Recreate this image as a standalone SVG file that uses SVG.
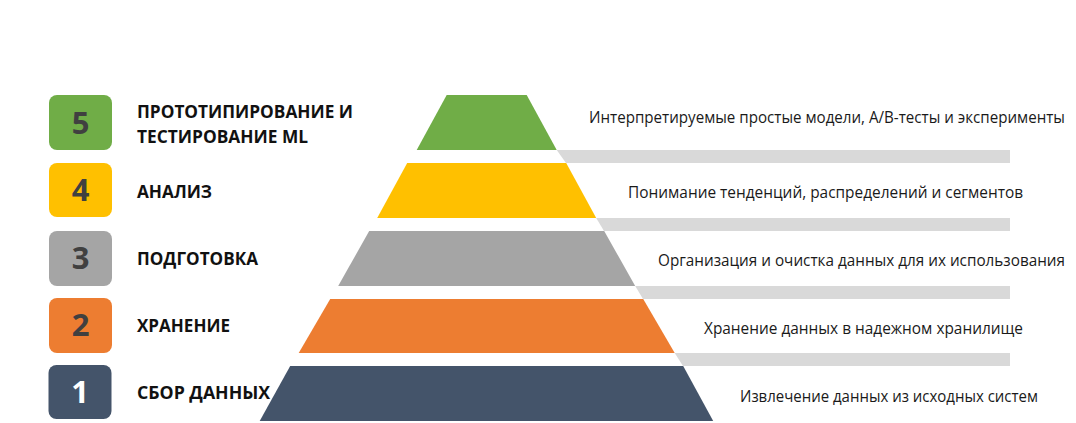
<svg xmlns="http://www.w3.org/2000/svg" width="1076" height="423" viewBox="0 0 1076 423">
<style>
.badge{stroke:none}
.num{font-family:"Open Sans","Liberation Sans",sans-serif;font-weight:bold;font-size:31px;text-anchor:middle;fill:#404040}
.lbl{font-family:"Open Sans","Liberation Sans",sans-serif;font-weight:bold;font-size:18px;fill:#111111}
.desc{font-family:"Open Sans","Liberation Sans",sans-serif;font-size:15.5px;fill:#1a1a1a}
.bar{fill:#d9d9d9}
</style>
<rect width="1076" height="423" fill="#ffffff"/>
<g id="connectors">
<polygon class="bar" points="556.7,150 1010,150 1010,163 566,163"/>
<polygon class="bar" points="596.2,218 1010,218 1010,231 604,231"/>
<polygon class="bar" points="635.2,286 1010,286 1010,299 643,299"/>
<polygon class="bar" points="674.7,353 1010,353 1010,366 683,366"/>
</g>
<g id="tier5">
<rect class="badge" x="49" y="95" width="63" height="55" rx="8" fill="#70ad47"/>
<text class="num" x="80.5" y="133.5">5</text>
<text class="lbl" x="137" y="118" textLength="216" lengthAdjust="spacingAndGlyphs">ПРОТОТИПИРОВАНИЕ И</text>
<text class="lbl" x="137" y="143" textLength="171" lengthAdjust="spacingAndGlyphs">ТЕСТИРОВАНИЕ ML</text>
<polygon points="446.7,95 526.7,95 556.7,150 416.7,150" fill="#70ad47"/>
<text class="desc" x="589" y="122.5" textLength="476" lengthAdjust="spacingAndGlyphs">Интерпретируемые простые модели, А/В-тесты и эксперименты</text>
</g>
<g id="tier4">
<rect class="badge" x="49" y="163" width="63" height="54" rx="8" fill="#ffc000"/>
<text class="num" x="80.5" y="201">4</text>
<text class="lbl" x="137" y="198" textLength="75" lengthAdjust="spacingAndGlyphs">АНАЛИЗ</text>
<polygon points="407.2,163 566.2,163 596.2,218 377.2,218" fill="#ffc000"/>
<text class="desc" x="628" y="197.5" textLength="395" lengthAdjust="spacingAndGlyphs">Понимание тенденций, распределений и сегментов</text>
</g>
<g id="tier3">
<rect class="badge" x="49" y="231" width="63" height="55" rx="8" fill="#a5a5a5"/>
<text class="num" x="80.5" y="269">3</text>
<text class="lbl" x="137" y="265" textLength="121" lengthAdjust="spacingAndGlyphs">ПОДГОТОВКА</text>
<polygon points="369.2,231 604.2,231 635.2,286 338.2,286" fill="#a5a5a5"/>
<text class="desc" x="658" y="265.5" textLength="407" lengthAdjust="spacingAndGlyphs">Организация и очистка данных для их использования</text>
</g>
<g id="tier2">
<rect class="badge" x="49" y="298" width="63" height="55" rx="8" fill="#ed7d31"/>
<text class="num" x="80.5" y="336">2</text>
<text class="lbl" x="137" y="332" textLength="93" lengthAdjust="spacingAndGlyphs">ХРАНЕНИЕ</text>
<polygon points="330.2,299 643.2,299 674.7,353 298.7,353" fill="#ed7d31"/>
<text class="desc" x="704" y="333.5" textLength="319" lengthAdjust="spacingAndGlyphs">Хранение данных в надежном хранилище</text>
</g>
<g id="tier1">
<rect class="badge" x="48.5" y="365" width="63" height="54" rx="8" fill="#44546a"/>
<text class="num" x="80" y="403" style="fill:#ffffff">1</text>
<text class="lbl" x="137" y="399" textLength="133" lengthAdjust="spacingAndGlyphs">СБОР ДАННЫХ</text>
<polygon points="290.2,366 683.2,366 713.2,421 259.7,421" fill="#44546a"/>
<text class="desc" x="740" y="401.5" textLength="298" lengthAdjust="spacingAndGlyphs">Извлечение данных из исходных систем</text>
</g>
</svg>
